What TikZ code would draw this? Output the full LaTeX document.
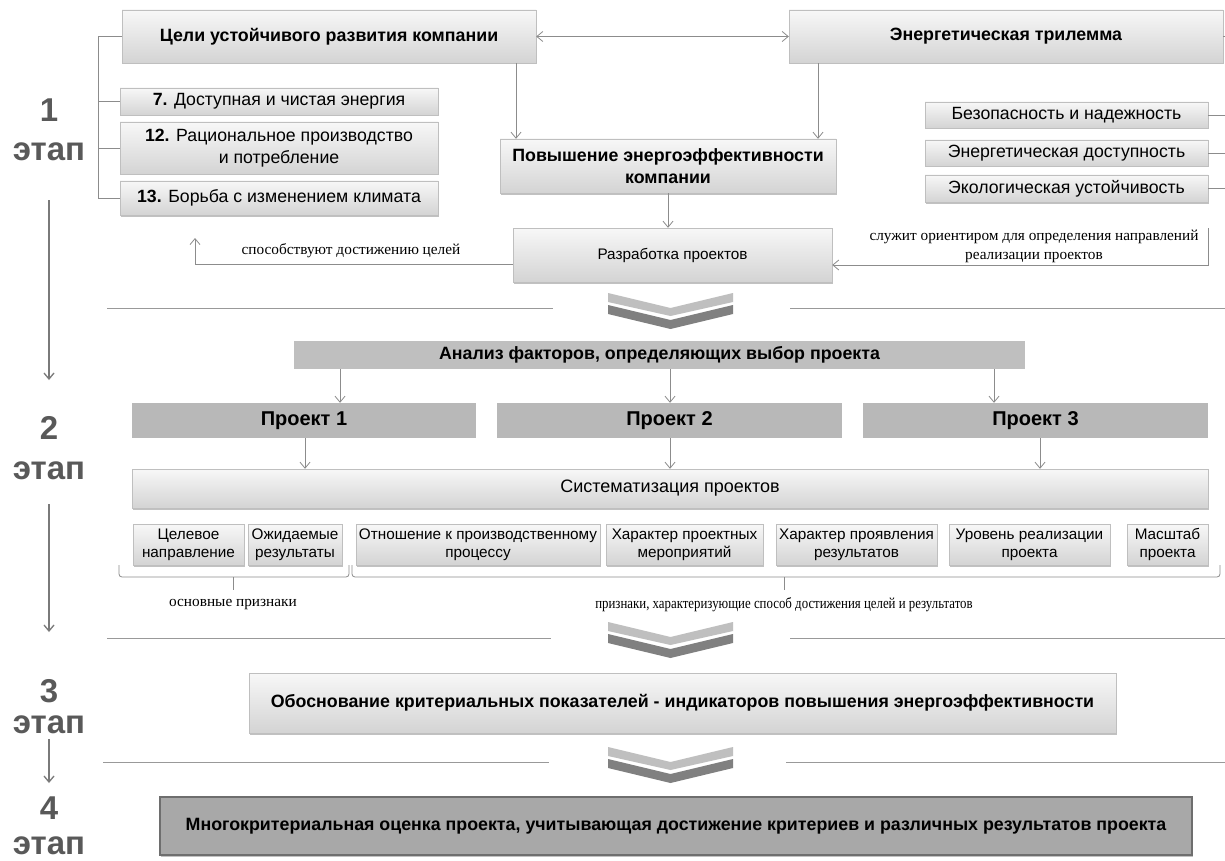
\documentclass[tikz,border=0pt]{standalone}
\usepackage{fontspec}
\setmainfont{Liberation Sans}
\newfontfamily\serifrm{Liberation Serif}
\newfontfamily\serifnarrow[FakeStretch=0.84]{Liberation Serif}
\usetikzlibrary{arrows.meta,shadows,calc}
\newcommand\fHB{\fontsize{17.8}{22}\selectfont\bfseries}
\newcommand\fPR{\fontsize{20}{23}\selectfont\bfseries}
\newcommand\fN{\fontsize{17.7}{22.5}\selectfont}
\newcommand\fS{\fontsize{15.3}{18}\selectfont}
\newcommand\fDev{\fontsize{15.3}{18}\selectfont}
\newcommand\fSer{\serifrm\fontsize{15.3}{19}\selectfont}
\newcommand\fSerN{\serifnarrow\fontsize{15.3}{19}\selectfont}
\newcommand\fStage{\fontsize{33}{36}\selectfont\bfseries}
\newcommand\boxat[7]{\node[#1, minimum width={(#5)-(#3)}, minimum height={(#6)-(#4)}, inner sep=0pt] (#2) at ({((#3)+(#5))/2},{((#4)+(#6))/2}) {#7};}
\newcommand\chevron[1]{%
  \fill[black!25] (608,#1) -- (670.5,#1+15) -- (733,#1) -- (733,#1+9) -- (670.5,#1+23) -- (608,#1+9) -- cycle;
  \fill[black!50] (608,#1+12) -- (670.5,#1+27) -- (733,#1+12) -- (733,#1+21) -- (670.5,#1+36) -- (608,#1+21) -- cycle;}
\begin{document}
\begin{tikzpicture}[x=1pt,y=-1pt,
  >={Straight Barb[length=6pt,width=10pt]},
  line/.style={draw=black!45, line width=0.8pt},
  conn/.style={line, ->},
  stagearrow/.style={draw=black!52, line width=1.3pt, ->},
  gbox/.style={draw=black!25, top color=black!3, bottom color=black!17, align=center,
    drop shadow={shadow xshift=1pt, shadow yshift=-1.5pt, fill=black!40, opacity=0.6}},
  flat/.style={fill=black!25, align=center},
  flatp/.style={fill=black!28, align=center},
  darkbox/.style={fill=black!34, draw=black!57, line width=1.6pt, align=center,
    drop shadow={shadow xshift=1pt, shadow yshift=-1.5pt, fill=black!40, opacity=0.6}},
  stage/.style={text=black!65, font=\fStage, inner sep=0pt},
  sertext/.style={font=\fSer, align=center, inner sep=0pt}]
\useasboundingbox (0,0) rectangle (1225,861);
\fill[white] (0,0) rectangle (1225,861);

% stage labels
\node[stage] (n1) at (49,110) {1};
\node[stage] (e1) at (49,152) {этап};
\node[stage] (n2) at (49,428) {2};
\node[stage] (e2) at (49,471) {этап};
\node[stage] (n3) at (49,691) {3};
\node[stage] (e3) at (49,725) {этап};
\node[stage] (n4) at (49,808) {4};
\node[stage] (e4) at (49,846) {этап};
\coordinate (l1a) at (49,200); \coordinate (l1b) at (49,380);
\coordinate (l2a) at (49,504); \coordinate (l2b) at (49,632);
\coordinate (l3a) at (49,739); \coordinate (l3b) at (49,783);
\draw[stagearrow] (l1a) -- (l1b);
\draw[stagearrow] (l2a) -- (l2b);
\draw[stagearrow] (l3a) -- (l3b);

% stage 1
\boxat{gbox, font=\fHB}{goals}{122}{10}{536}{63}{Цели устойчивого развития компании}
\boxat{gbox, font=\fHB}{tri}{789}{10}{1223}{63}{Энергетическая трилемма}
\boxat{gbox, font=\fN}{g7}{120}{88}{438}{115}{\textbf{7.} Доступная и чистая энергия}
\boxat{gbox, font=\fN}{g12}{120}{122}{438}{174}{\textbf{12.} Рациональное производство\\и потребление}
\boxat{gbox, font=\fN}{g13}{120}{181}{438}{215}{\textbf{13.} Борьба с изменением климата}
\boxat{gbox, font=\fHB}{eff}{500}{139}{836}{193}{Повышение энергоэффективности\\компании}
\boxat{gbox, font=\fDev}{dev}{513}{228}{832}{282}{Разработка проектов}
\boxat{gbox, font=\fN}{t1}{925}{102}{1208}{128}{Безопасность и надежность}
\boxat{gbox, font=\fN}{t2}{925}{140}{1208}{166}{Энергетическая доступность}
\boxat{gbox, font=\fN}{t3}{925}{175}{1208}{202}{Экологическая устойчивость}

\draw[line, <->] (goals.east) -- (tri.west);
\coordinate (xa) at (516,0); \coordinate (xb) at (818,0);
\draw[conn] (goals.south -| xa) -- (eff.north -| xa);
\draw[conn] (tri.south -| xb) -- (eff.north -| xb);
\draw[conn] (eff.south) -- (eff.south |- dev.north);
\coordinate (lb) at (98,36.5);
\draw[line] (goals.west) -- (lb) |- (g13.west);
\draw[line] (g7.west) -- (g7.west -| lb);
\draw[line] (g12.west) -- (g12.west -| lb);
\coordinate (rb) at (1226,0);
\draw[line] (tri.east) -- (tri.east -| rb);
\draw[line] (t1.east) -- (t1.east -| rb);
\draw[line] (t2.east) -- (t2.east -| rb);
\draw[line] (t3.east) -- (t3.east -| rb);
\coordinate (sl) at (1208,228);
\draw[conn] (sl) |- ([yshift=-10pt]dev.east);
\coordinate (sp) at (195,238);
\draw[conn] ([yshift=-9pt]dev.west) -| (sp);
\node[sertext] (lblsl) at (1034,246) {служит ориентиром для определения направлений\\реализации проектов};
\node[sertext] (lblsp) at (351,251) {способствуют достижению целей};

% separator 1
\draw[line, draw=black!40] (107,308) -- (553,308);
\draw[line, draw=black!40] (790,308) -- (1225,308);
\chevron{293}

% stage 2
\boxat{flat, font=\fHB}{an}{294}{341}{1025}{369}{Анализ факторов, определяющих выбор проекта}
\boxat{flatp, font=\fPR}{p1}{132}{403}{476}{438}{Проект 1}
\boxat{flatp, font=\fPR}{p2}{497}{403}{842}{438}{Проект 2}
\boxat{flatp, font=\fPR}{p3}{863}{403}{1208}{438}{Проект 3}
\coordinate (q1) at (340,0); \coordinate (q2) at (670,0); \coordinate (q3) at (994,0);
\draw[conn] (an.south -| q1) -- (p1.north -| q1);
\draw[conn] (an.south -| q2) -- (p2.north -| q2);
\draw[conn] (an.south -| q3) -- (p3.north -| q3);
\boxat{gbox, font=\fontsize{18}{21}\selectfont}{sys}{132}{469}{1208}{508}{Систематизация проектов}
\coordinate (r1) at (305,0); \coordinate (r2) at (670,0); \coordinate (r3) at (1040,0);
\draw[conn] (p1.south -| r1) -- (sys.north -| r1);
\draw[conn] (p2.south -| r2) -- (sys.north -| r2);
\draw[conn] (p3.south -| r3) -- (sys.north -| r3);
\boxat{gbox, font=\fS}{s1}{133}{524}{244}{565}{Целевое\\направление}
\boxat{gbox, font=\fS}{s2}{248}{524}{342}{565}{Ожидаемые\\результаты}
\boxat{gbox, font=\fS}{s3}{356}{524}{600}{565}{Отношение к производственному\\процессу}
\boxat{gbox, font=\fS}{s4}{606}{524}{763}{565}{Характер проектных\\мероприятий}
\boxat{gbox, font=\fS}{s5}{776}{524}{937}{565}{Характер проявления\\результатов}
\boxat{gbox, font=\fS}{s6}{949}{524}{1110}{565}{Уровень реализации\\проекта}
\boxat{gbox, font=\fS}{s7}{1127}{524}{1208}{565}{Масштаб\\проекта}
\draw[line, rounded corners=3pt] (119,565) -- (119,577) -- (349,577) -- (349,565);
\draw[line] (233,577) -- (233,590);
\draw[line, rounded corners=3pt] (352,565) -- (352,577) -- (1220,577) -- (1220,565);
\draw[line] (784,577) -- (784,590);
\node[sertext] (lblb1) at (233,605) {основные признаки};
\node[sertext, font=\fSerN] (lblb2) at (784,605) {признаки, характеризующие способ достижения целей и результатов};

% separator 2
\draw[line, draw=black!40] (107,638) -- (551,638);
\draw[line, draw=black!40] (790,638) -- (1225,638);
\chevron{622}

% stage 3
\boxat{gbox, font=\fHB}{jus}{249}{673}{1116}{733}{Обоснование критериальных показателей - индикаторов повышения энергоэффективности}

% separator 3
\draw[line, draw=black!40] (103,762) -- (549,762);
\draw[line, draw=black!40] (786,762) -- (1225,762);
\chevron{747}

% stage 4
\boxat{darkbox, font=\fHB}{multi}{160}{797}{1192}{855}{Многокритериальная оценка проекта, учитывающая достижение критериев и различных результатов проекта}
\end{tikzpicture}
\end{document}
